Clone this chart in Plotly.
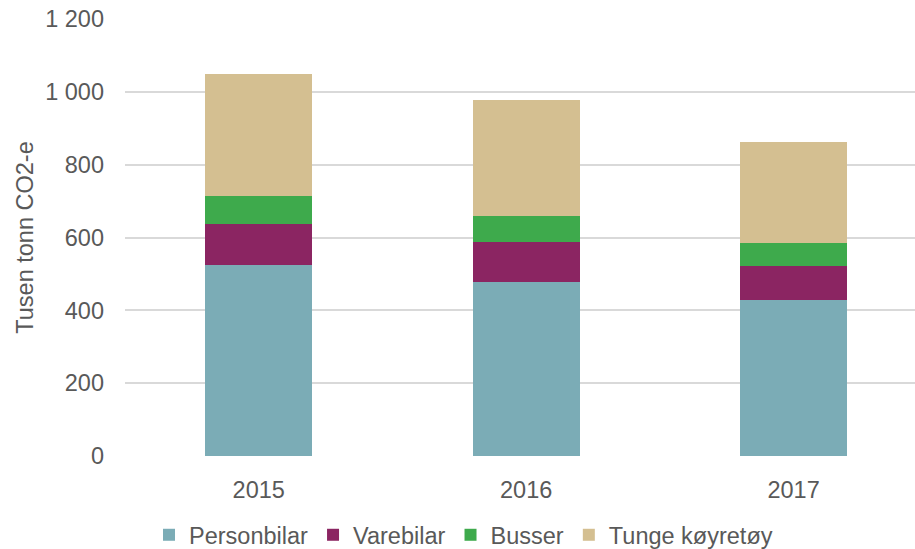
import plotly.graph_objects as go

years = ["2015", "2016", "2017"]
personbilar = [524, 478, 428]
varebilar = [113, 110, 94]
busser = [77, 71, 63]
tunge = [335, 318, 277]
series_names = ["Personbilar", "Varebilar", "Busser", "Tunge køyretøy"]
colors = ["#7BACB6", "#8B2562", "#3EAA4C", "#D4BF91"]
y_tickvals = [0, 200, 400, 600, 800, 1000, 1200]
y_ticktext = ["0", "200", "400", "600", "800", "1 000", "1 200"]

x_pos = list(range(len(years)))
fig = go.Figure()
for name, vals, col in zip(series_names, [personbilar, varebilar, busser, tunge], colors):
    fig.add_trace(go.Bar(x=x_pos, y=vals, name=name, marker=dict(color=col, line=dict(width=0)),
                         width=0.4))

W, H = 915, 549
font = "Liberation Sans, Arial, sans-serif"
fs = 23.5
fig.update_layout(
    barmode="stack",
    width=W, height=H,
    margin=dict(l=125, r=0, t=19, b=93),
    paper_bgcolor="white", plot_bgcolor="white",
    font=dict(family=font, size=fs, color="#595959"),
    xaxis=dict(range=[-0.5, 2.454], tickvals=x_pos, ticktext=years, showgrid=False,
               zeroline=False, showline=False, ticklabelstandoff=17, automargin=False,
               tickfont=dict(size=fs, color="#595959")),
    yaxis=dict(range=[0, 1200], tickvals=y_tickvals, ticktext=y_ticktext,
               showgrid=True, gridcolor="#D9D9D9", gridwidth=1.5, zeroline=False,
               ticklabelstandoff=20, automargin=False, ticklabeloverflow="allow",
               tickfont=dict(size=fs, color="#595959"),
               title=dict(text="Tusen tonn CO2-e", standoff=4, font=dict(size=fs, color="#595959"))),
    legend=dict(orientation="h", x=149 / W, xanchor="left", xref="container",
                y=1 - 535 / H, yanchor="middle", yref="container",
                font=dict(size=fs, color="#595959"), traceorder="normal"),
    showlegend=True,
)
fig.write_html("out.html", config={"displayModeBar": False},
               post_script="document.body.style.margin='0';")
